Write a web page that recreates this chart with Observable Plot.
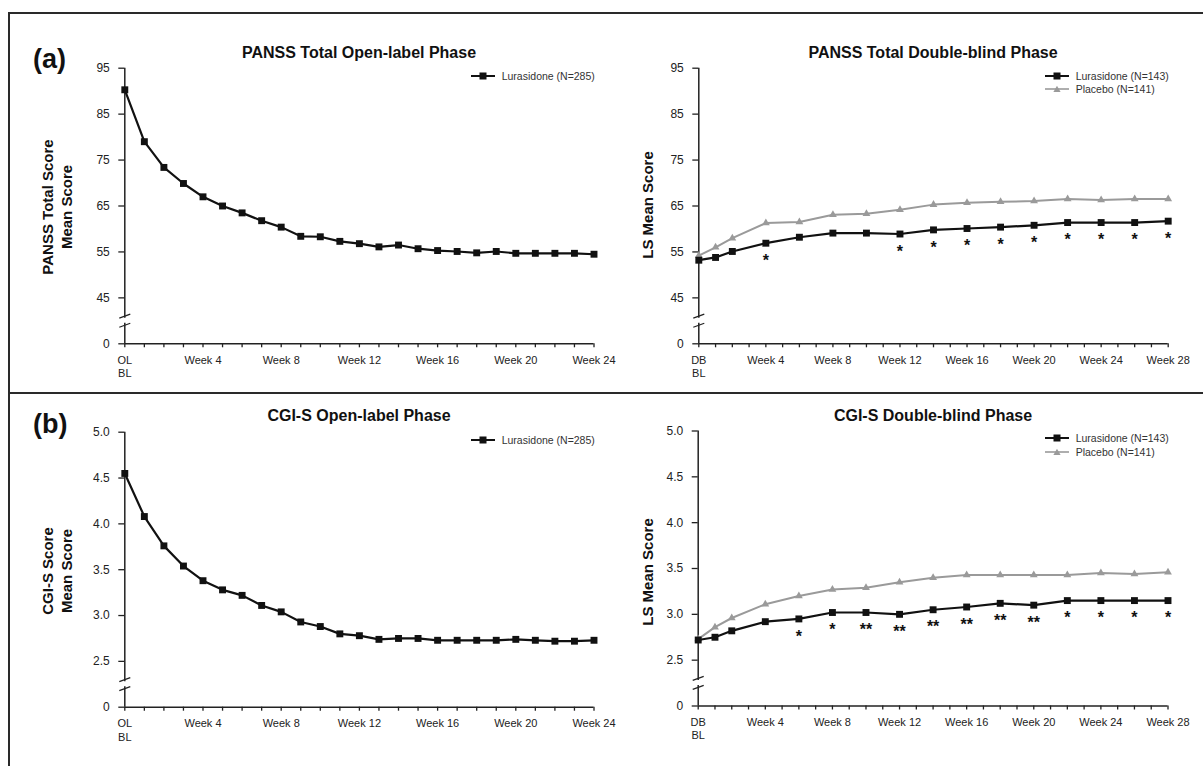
<!DOCTYPE html>
<html>
<head>
<meta charset="utf-8">
<script src="https://cdn.jsdelivr.net/npm/d3@7"></script>
<script src="https://cdn.jsdelivr.net/npm/@observablehq/plot@0.6"></script>
<style>
  body { margin: 0; background: #fff; font-family: Arial, "Liberation Sans", sans-serif; }
  #root { position: relative; width: 1203px; height: 766px; overflow: hidden; background: #fff; }
  .abs { position: absolute; }
  .rule { position: absolute; background: #2a2a2a; }
  .title { position: absolute; font-weight: bold; font-size: 16px; color: #111; white-space: nowrap; transform: translate(-50%, -50%); }
  .plab { position: absolute; font-weight: bold; font-size: 27px; color: #111; white-space: nowrap; transform: translateY(-50%); }
  .ylab { position: absolute; font-weight: bold; font-size: 15px; color: #111; white-space: nowrap; transform: translate(-50%, -50%) rotate(-90deg); }
  .leg { position: absolute; font-size: 10.5px; color: #333; white-space: nowrap; transform: translateY(-50%); }
</style>
</head>
<body>
<div id="root"></div>
<script>
// ---------------- data ----------------
const olWeeks = [0, 1, 2, 3, 4, 5, 6, 7, 8, 9, 10, 11, 12, 13, 14, 15, 16, 17, 18, 19, 20, 21, 22, 23, 24];
const dbWeeks = [0, 1, 2, 4, 6, 8, 10, 12, 14, 16, 18, 20, 22, 24, 26, 28];
const dbAllTicks = [0, 1, 2, 3, 4, 5, 6, 7, 8, 9, 10, 11, 12, 13, 14, 15, 16, 17, 18, 19, 20, 21, 22, 23, 24, 25, 26, 27, 28];
const olLabelWeeks = [0, 4, 8, 12, 16, 20, 24];
const dbLabelWeeks = [0, 4, 8, 12, 16, 20, 24, 28];
const olBaseLabel = "OL";
const dbBaseLabel = "DB";
const baseSubLabel = "BL";

const pansYTicks = [0, 45, 55, 65, 75, 85, 95];
const pansYLabels = ["0", "45", "55", "65", "75", "85", "95"];
const cgiYTicks = [0, 2.5, 3.0, 3.5, 4.0, 4.5, 5.0];
const cgiYLabels = ["0", "2.5", "3.0", "3.5", "4.0", "4.5", "5.0"];

// PANSS Total, open-label phase (Lurasidone N=285)
const pansOL = [90.3, 79.0, 73.4, 69.9, 67.0, 65.0, 63.5, 61.8, 60.4, 58.4, 58.3, 57.3, 56.8, 56.1, 56.5, 55.7, 55.3, 55.1, 54.8, 55.1, 54.7, 54.7, 54.7, 54.7, 54.5];
// PANSS Total, double-blind phase
const pansDBLur = [53.2, 53.8, 55.1, 56.9, 58.2, 59.1, 59.1, 58.9, 59.8, 60.1, 60.4, 60.8, 61.4, 61.4, 61.4, 61.7];
const pansDBPbo = [54.2, 56.0, 58.0, 61.3, 61.5, 63.1, 63.3, 64.2, 65.3, 65.7, 65.9, 66.1, 66.5, 66.3, 66.5, 66.5];
const pansDBSig = ["", "", "", "*", "", "", "", "*", "*", "*", "*", "*", "*", "*", "*", "*"];

// CGI-S, open-label phase
const cgiOL = [4.55, 4.08, 3.76, 3.54, 3.38, 3.28, 3.22, 3.11, 3.04, 2.93, 2.88, 2.80, 2.78, 2.74, 2.75, 2.75, 2.73, 2.73, 2.73, 2.73, 2.74, 2.73, 2.72, 2.72, 2.73];
// CGI-S, double-blind phase
const cgiDBLur = [2.72, 2.75, 2.82, 2.92, 2.95, 3.02, 3.02, 3.00, 3.05, 3.08, 3.12, 3.10, 3.15, 3.15, 3.15, 3.15];
const cgiDBPbo = [2.73, 2.86, 2.96, 3.11, 3.20, 3.27, 3.29, 3.35, 3.40, 3.43, 3.43, 3.43, 3.43, 3.45, 3.44, 3.46];
const cgiDBSig = ["", "", "", "", "*", "*", "**", "**", "**", "**", "**", "**", "*", "*", "*", "*"];

const lurColor = "#111111";
const pboColor = "#9a9a9a";
const axisColor = "#222222";
const FONT = "Arial, 'Liberation Sans', sans-serif";

// ---------------- helpers ----------------
const root = document.getElementById("root");
function div(cls, html, style) {
  const d = document.createElement("div");
  d.className = cls;
  d.innerHTML = html;
  Object.assign(d.style, style);
  root.appendChild(d);
  return d;
}

function panel(o) {
  const xMax = o.allTicks[o.allTicks.length - 1];
  const plotW = o.x1 - o.x0;
  const yB = o.yTicks[1];
  const yT = o.yTicks[o.yTicks.length - 1];
  const nSteps = o.yTicks.length - 2;          // steps above the break
  const step = (yT - yB) / nSteps;
  // broken axis: 0..yB occupies one step, then linear yB..yT
  const brk = v => v <= yB ? v / yB : 1 + (v - yB) / step;
  const uMax = brk(yT);
  const pxPerU = (o.yBottom - o.yTop) / uMax;
  const uPerPx = 1 / pxPerU;
  const wPerPx = xMax / plotW;
  const slashes = [0.404, 0.604].map(c => ({c}));
  const rows = (weeks, vals, sig) => weeks.map((w, i) => ({week: w, v: vals[i], s: sig ? sig[i] : ""}));

  const marks = [
    Plot.ruleY([0], {stroke: axisColor, strokeWidth: 1.5}),
    Plot.ruleX([0], {y1: 0, y2: 0.448, stroke: axisColor, strokeWidth: 1.5}),
    Plot.ruleX([0], {y1: 0.557, y2: uMax, stroke: axisColor, strokeWidth: 1.5}),
    Plot.link(slashes, {
      x1: () => -5.5 * wPerPx, x2: () => 5.5 * wPerPx,
      y1: d => d.c - 2 * uPerPx, y2: d => d.c + 2 * uPerPx,
      stroke: axisColor, strokeWidth: 1.3
    }),
    Plot.axisY(o.yTicks.map(brk), {tickSize: 6, tickPadding: 9, fontSize: 12, strokeWidth: 1.3, label: null,
      tickFormat: (u, i) => o.yLabels[i]}),
    Plot.axisX(o.allTicks, {tickSize: 4, tickPadding: 0, tickFormat: () => "", strokeWidth: 1.3, label: null}),
    Plot.axisX(o.labelWeeks, {tickSize: 0, tickPadding: 12, fontSize: 11, label: null,
      tickFormat: d => d === 0 ? o.baseLabel : "Week " + d}),
    Plot.axisX([0], {tickSize: 0, tickPadding: 25.5, fontSize: 11, label: null, tickFormat: () => baseSubLabel})
  ];

  if (o.pbo) {
    const p = rows(o.weeks, o.pbo);
    marks.push(Plot.line(p, {x: "week", y: d => brk(d.v), stroke: pboColor, strokeWidth: 2}));
    marks.push(Plot.dot(p, {x: "week", y: d => brk(d.v), symbol: "triangle", r: 2.9, fill: pboColor, stroke: "none"}));
  }
  const l = rows(o.weeks, o.lur, o.sig);
  marks.push(Plot.line(l, {x: "week", y: d => brk(d.v), stroke: lurColor, strokeWidth: 2.2}));
  marks.push(Plot.dot(l, {x: "week", y: d => brk(d.v), symbol: "square", r: 3.9, fill: lurColor, stroke: "none"}));
  if (o.sig) {
    marks.push(Plot.text(l.filter(d => d.s), {x: "week", y: d => brk(d.v), text: "s", dy: 17.5,
      fontSize: 16, fontWeight: "bold", fill: lurColor}));
  }

  const chart = Plot.plot({
    width: o.w, height: o.h,
    marginLeft: o.x0, marginRight: o.w - o.x1,
    marginTop: o.yTop, marginBottom: o.h - o.yBottom,
    x: {domain: [0, xMax], label: null},
    y: {domain: [0, uMax], label: null},
    style: {fontFamily: FONT, color: axisColor, background: "transparent", overflow: "visible"},
    marks
  });
  chart.style.position = "absolute";
  chart.style.left = o.left + "px";
  chart.style.top = o.top + "px";
  root.appendChild(chart);
}

function legend(x0, textX, y, color, symbol, label) {
  const sym = symbol === "square"
    ? `<rect x="8.5" y="1.5" width="7" height="7" fill="${color}"/>`
    : `<path d="M12,1.8 L15.6,8 L8.4,8 Z" fill="${color}"/>`;
  const sw = symbol === "square" ? 2 : 1.6;
  div("abs", `<svg width="25" height="10"><line x1="0" x2="24" y1="5" y2="5" stroke="${color}" stroke-width="${sw}"/>${sym}</svg>`,
    {left: x0 + "px", top: (y - 5) + "px", width: "25px", height: "10px", lineHeight: "0"});
  div("leg", label, {left: textX + "px", top: y + "px"});
}

// ---------------- frame ----------------
div("rule", "", {left: "7.5px", top: "11.5px", width: "1196px", height: "2px"});
div("rule", "", {left: "7.5px", top: "11.5px", width: "2px", height: "760px"});
div("rule", "", {left: "7.5px", top: "392.3px", width: "1196px", height: "2px"});

// ---------------- panels ----------------
panel({left: 0, top: 0, w: 625, h: 393, x0: 124.3, x1: 593.5, yBottom: 343.3, yTop: 67.7,
  yTicks: pansYTicks, yLabels: pansYLabels, allTicks: olWeeks, labelWeeks: olLabelWeeks,
  baseLabel: olBaseLabel, weeks: olWeeks, lur: pansOL});
panel({left: 625, top: 0, w: 578, h: 393, x0: 73.3, x1: 542.7, yBottom: 343.3, yTop: 67.7,
  yTicks: pansYTicks, yLabels: pansYLabels, allTicks: dbAllTicks, labelWeeks: dbLabelWeeks,
  baseLabel: dbBaseLabel, weeks: dbWeeks, lur: pansDBLur, pbo: pansDBPbo, sig: pansDBSig});
panel({left: 0, top: 393, w: 625, h: 373, x0: 124.3, x1: 593.5, yBottom: 313.7, yTop: 38.7,
  yTicks: cgiYTicks, yLabels: cgiYLabels, allTicks: olWeeks, labelWeeks: olLabelWeeks,
  baseLabel: olBaseLabel, weeks: olWeeks, lur: cgiOL});
panel({left: 625, top: 393, w: 578, h: 373, x0: 72.7, x1: 542.5, yBottom: 312.5, yTop: 37.5,
  yTicks: cgiYTicks, yLabels: cgiYLabels, allTicks: dbAllTicks, labelWeeks: dbLabelWeeks,
  baseLabel: dbBaseLabel, weeks: dbWeeks, lur: cgiDBLur, pbo: cgiDBPbo, sig: cgiDBSig});

// ---------------- texts ----------------
div("plab", "(a)", {left: "33px", top: "59px"});
div("plab", "(b)", {left: "33px", top: "424px"});

div("title", "PANSS Total Open-label Phase", {left: "359px", top: "52.7px"});
div("title", "PANSS Total Double-blind Phase", {left: "933px", top: "52.7px"});
div("title", "CGI-S Open-label Phase", {left: "359px", top: "416px"});
div("title", "CGI-S Double-blind Phase", {left: "933px", top: "416px"});

div("ylab", "PANSS Total Score", {left: "47px", top: "207px"});
div("ylab", "Mean Score", {left: "66px", top: "207px"});
div("ylab", "LS Mean Score", {left: "647px", top: "205px"});
div("ylab", "CGI-S Score", {left: "47px", top: "571px"});
div("ylab", "Mean Score", {left: "66px", top: "571px"});
div("ylab", "LS Mean Score", {left: "647px", top: "572px"});

legend(471, 501.7, 76, lurColor, "square", "Lurasidone (N=285)");
legend(1045, 1075.7, 75.7, lurColor, "square", "Lurasidone (N=143)");
legend(1045, 1075.7, 89, pboColor, "triangle", "Placebo (N=141)");
legend(471, 501.7, 440, lurColor, "square", "Lurasidone (N=285)");
legend(1045, 1075.7, 438.3, lurColor, "square", "Lurasidone (N=143)");
legend(1045, 1075.7, 451.7, pboColor, "triangle", "Placebo (N=141)");
</script>
</body>
</html>
